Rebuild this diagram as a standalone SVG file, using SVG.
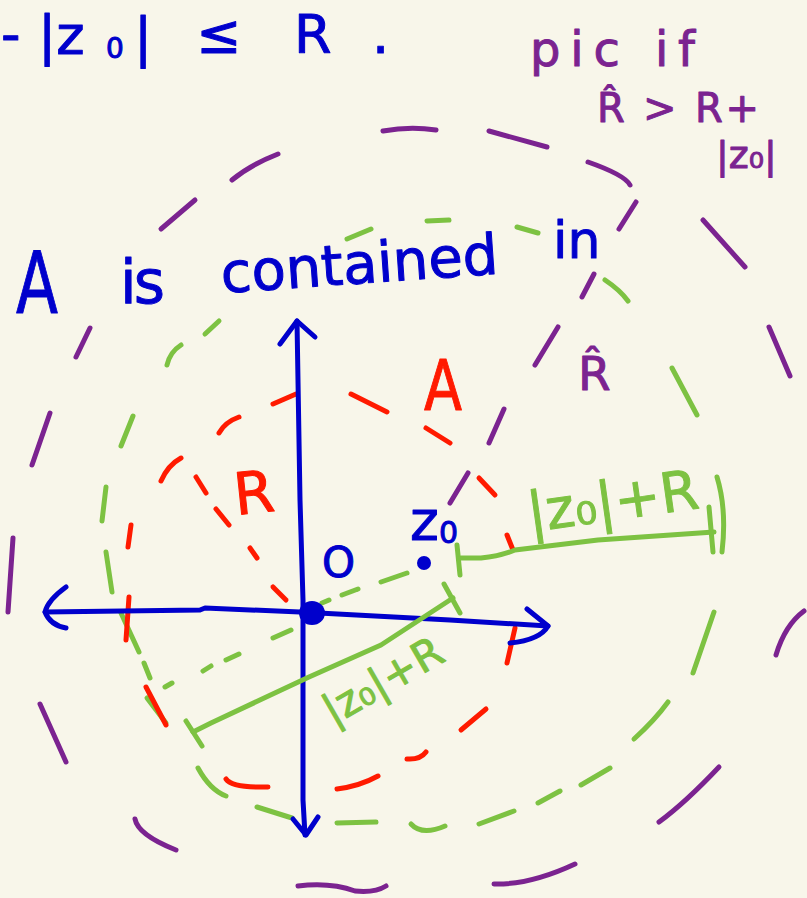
<svg xmlns="http://www.w3.org/2000/svg" width="807" height="898" viewBox="0 0 807 898">
<style>
.s{fill:none;stroke-width:5;stroke-linecap:round;stroke-linejoin:round}
.pu{stroke:#7b2390}.gr{stroke:#7dc242}.rd{stroke:#ff1a00}.bl{stroke:#0000cc}
.t{font-family:"DejaVu Sans","Liberation Sans",sans-serif;stroke-width:1;stroke-linejoin:round}
.tb{fill:#0000cc;stroke:#0000cc}.tp{fill:#7b2390;stroke:#7b2390}.tr{fill:#ff1a00;stroke:#ff1a00}.tg{fill:#7dc242;stroke:#7dc242}
</style>
<rect width="807" height="898" fill="#f8f6ea"/>

<g id="circle-Rhat" class="s pu">
<path d="M383,131 Q410,126 436,130"/>
<path d="M489,131 L547,147"/>
<path d="M588,162 Q625,175 630,185"/>
<path d="M278,154 Q250,165 232,180"/>
<path d="M195,200 L161,229"/>
<path d="M636,202 L619,229"/>
<path d="M703,220 L745,267"/>
<path d="M594,274 L582,297"/>
<path d="M558,327 L535,365"/>
<path d="M504,409 L489,443"/>
<path d="M468,473 L450,503"/>
<path d="M90,328 L76,357"/>
<path d="M50,413 L32,465"/>
<path d="M13,538 L8,612"/>
<path d="M40,704 L66,762"/>
<path d="M135,819 Q138,835 176,850"/>
<path d="M298,886 Q330,882 355,891 Q375,893 386,886"/>
<path d="M494,884 Q530,885 575,864"/>
<path d="M659,822 Q685,803 719,767"/>
<path d="M776,655 Q785,625 804,611"/>
<path d="M769,327 L790,376"/>
</g>

<g id="circle-green" class="s gr">
<path d="M347,239 L371,229"/>
<path d="M427,221 L449,220"/>
<path d="M517,227 L538,233"/>
<path d="M605,280 Q620,290 628,301"/>
<path d="M219,321 L205,334"/>
<path d="M181,345 Q170,352 167,365"/>
<path d="M672,368 L697,415"/>
<path d="M717,477 Q727,510 722,552"/>
<path d="M133,416 L121,446"/>
<path d="M106,487 L102,521"/>
<path d="M106,552 L112,592"/>
<path d="M121,613 L139,652"/>
<path d="M144,663 L150,678"/>
<path d="M147,698 L166,723"/>
<path d="M198,768 Q210,790 226,796"/>
<path d="M257,807 L292,818"/>
<path d="M337,823 L376,822"/>
<path d="M411,824 Q422,836 445,826"/>
<path d="M479,824 L514,811"/>
<path d="M538,803 L560,791"/>
<path d="M581,785 L610,768"/>
<path d="M634,739 Q655,720 668,702"/>
<path d="M693,673 L714,612"/>
</g>

<g id="circle-A" class="s rd">
<path d="M273,404 L296,394"/>
<path d="M351,394 L387,412"/>
<path d="M426,428 L450,443"/>
<path d="M219,433 Q225,422 239,417"/>
<path d="M161,481 Q168,465 181,458"/>
<path d="M479,478 L495,495"/>
<path d="M507,535 L513,550"/>
<path d="M131,525 L128,547"/>
<path d="M129,597 L126,640"/>
<path d="M146,687 L166,725"/>
<path d="M226,779 Q232,788 268,787"/>
<path d="M337,789 Q360,786 378,776"/>
<path d="M407,759 Q420,760 426,752"/>
<path d="M461,730 L486,709"/>
<path d="M507,663 L515,628"/>
<path d="M196,477 L206,493"/>
<path d="M216,509 L229,525"/>
<path d="M250,548 L257,558"/>
<path d="M273,587 L286,600"/>
</g>

<g id="connectors">
<g id="axes" class="s bl">
<path d="M45,612 L200,610 L205,608 L300,612 L450,620 L548,626"/>
<path d="M66,587 Q48,600 45,612 Q50,625 66,628"/>
<path d="M527,609 L548,626 Q540,640 510,643"/>
<path d="M297,321 L300,500 L303,600 L303,800 L305,835"/>
<path d="M280,344 L297,321 L315,337"/>
<path d="M293,819 L306,835 L318,817"/>
</g>
<g id="z0-line" class="s gr">
<path d="M407,573 L381,582"/>
<path d="M358,589 L342,595"/>
<path d="M329,600 L322,603"/>
<path d="M291,630 L273,638"/>
<path d="M239,654 L226,660"/>
<path d="M211,666 L203,671"/>
<path d="M172,683 L165,687"/>
</g>
<g id="measure-1" class="s gr">
<path d="M457,545 L460,575"/>
<path d="M461,558 L481,558 Q500,556 515,550 L598,540 L714,532"/>
<path d="M709,507 L713,552"/>
</g>
<g id="measure-2" class="s gr">
<path d="M193,732 L211,723 L309,677 L381,645 L453,598"/>
<path d="M186,721 L202,746"/>
<path d="M444,584 L460,613"/>
</g>
</g>

<g id="points" fill="#0000cc">
<ellipse cx="312" cy="613" rx="13" ry="12"/>
<circle cx="424" cy="563" r="7"/>
</g>

<g id="labels">
<text class="t tb" font-size="54"><tspan x="1" y="53">-</tspan><tspan x="38" y="54">|z</tspan><tspan x="106" y="58" font-size="28">0</tspan><tspan x="134" y="56">|</tspan><tspan x="196" y="53">≤</tspan><tspan x="294" y="53">R</tspan><tspan x="372" y="53">.</tspan></text>
<text class="t tp" x="530" y="66" font-size="48" textLength="165" lengthAdjust="spacing">pic if</text>
<text class="t tp" x="597" y="122" font-size="40" textLength="162" lengthAdjust="spacing">R̂ &gt; R+</text>
<text class="t tp" x="716" y="168" font-size="38">|z₀|</text>
<text class="t tb" x="16" y="313" font-size="86" textLength="42" lengthAdjust="spacingAndGlyphs">A</text>
<text class="t tb" x="120" y="303" font-size="60" textLength="45" lengthAdjust="spacing">is</text>
<text class="t tb" font-size="56" transform="translate(222,293) rotate(-4)" textLength="278" lengthAdjust="spacingAndGlyphs">contained</text>
<text class="t tb" x="553" y="258" font-size="52">in</text>
<text class="t tr" x="424" y="410" font-size="70" textLength="38" lengthAdjust="spacingAndGlyphs">A</text>
<text class="t tr" transform="translate(236,515) rotate(-6)" font-size="58">R</text>
<text class="t tp" x="578" y="390" font-size="47">R̂</text>
<text class="t tb" x="322" y="577" font-size="42">O</text>
<text class="t tb" x="410" y="540" font-size="55">z<tspan font-size="30" dy="3">0</tspan></text>
<text class="t tg" transform="translate(530,532) rotate(-8)" font-size="55">|z₀|+R</text>
<text class="t tg" transform="translate(333,726) rotate(-30)" font-size="42">|z₀|+R</text>
</g>
</svg>
